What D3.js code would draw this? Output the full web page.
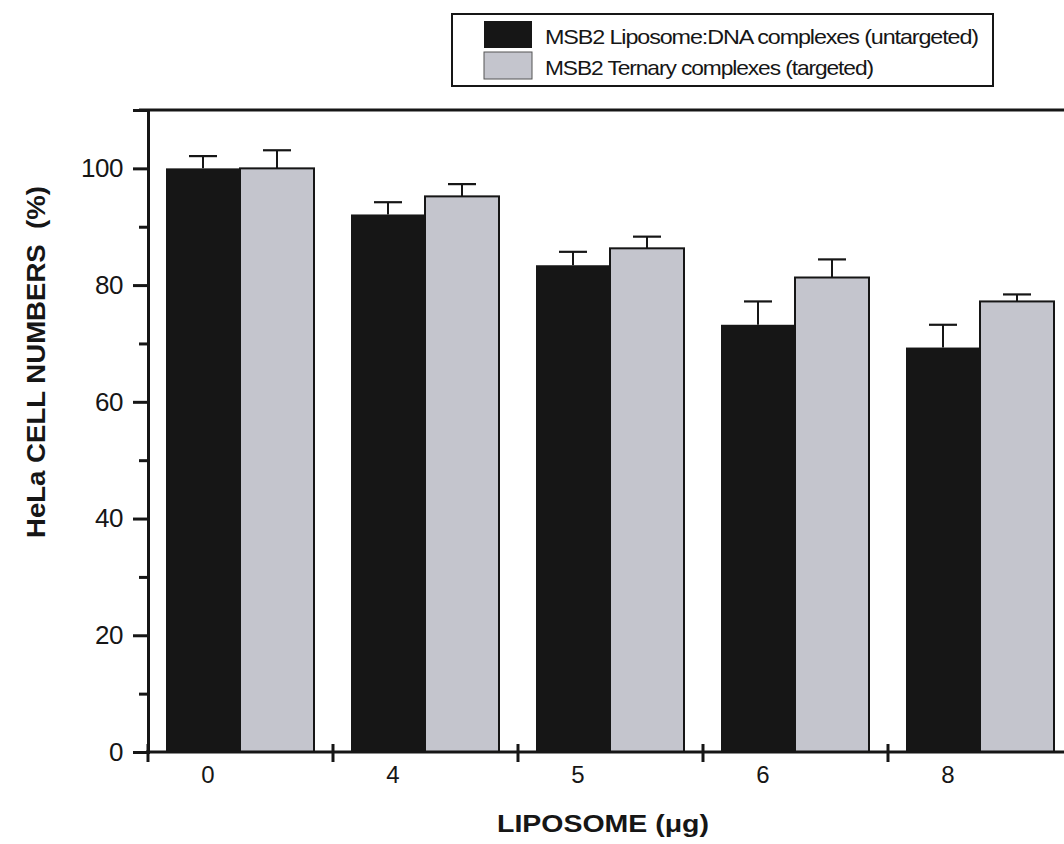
<!DOCTYPE html>
<html><head><meta charset="utf-8">
<script src="https://cdn.jsdelivr.net/npm/d3@7"></script>
<style>body{margin:0;background:#fff}svg{display:block}</style>
</head><body>
<script>
const categories = ["0", "4", "5", "6", "8"];
const seriesNames = ["MSB2 Liposome:DNA complexes (untargeted)", "MSB2 Ternary complexes (targeted)"];
const untargeted = [100, 92.1, 83.4, 73.2, 69.3];
const untargetedErr = [2.1, 2.1, 2.3, 4.0, 3.9];
const targeted = [100, 95.2, 86.3, 81.3, 77.2];
const targetedErr = [3.1, 2.1, 2.0, 3.1, 1.2];
const yTicks = [0, 20, 40, 60, 80, 100];
const yMinorTicks = [10, 30, 50, 70, 90];

const W = 1064, H = 844;
const svg = d3.select("body").append("svg").attr("width", W).attr("height", H);
const ink = "#161616";
const grayFill = "#c4c5cd";
const font = "Arial, 'Liberation Sans', sans-serif";

const y = d3.scaleLinear().domain([0, 110]).range([752, 110]);
const x = d3.scaleBand().domain(categories).range([148, 148 + 185 * 5]).paddingInner(0).paddingOuter(0);
const xs = d3.scaleBand().domain([0, 1]).range([18, 166]).padding(0);

const series = [
  {vals: untargeted, errs: untargetedErr, fill: ink, stroke: "none"},
  {vals: targeted, errs: targetedErr, fill: grayFill, stroke: ink}
];

// error bars
series.forEach((s, si) => {
  categories.forEach((c, i) => {
    const cx = x(c) + xs(si) + xs.bandwidth() / 2;
    const top = y(s.vals[i] + s.errs[i]);
    svg.append("line").attr("x1", cx).attr("x2", cx).attr("y1", y(s.vals[i])).attr("y2", top)
      .attr("stroke", ink).attr("stroke-width", 2);
    svg.append("line").attr("x1", cx - 14).attr("x2", cx + 14).attr("y1", top).attr("y2", top)
      .attr("stroke", ink).attr("stroke-width", 2.2);
  });
});

// bars
series.forEach((s, si) => {
  svg.append("g").selectAll("rect").data(categories).join("rect")
    .attr("x", c => x(c) + xs(si))
    .attr("width", xs.bandwidth())
    .attr("y", (c, i) => y(s.vals[i]))
    .attr("height", (c, i) => y(0) - y(s.vals[i]))
    .attr("fill", s.fill)
    .attr("stroke", s.stroke)
    .attr("stroke-width", 2);
});

// top frame line
svg.append("line").attr("x1", 139).attr("x2", W).attr("y1", y(110)).attr("y2", y(110))
  .attr("stroke", ink).attr("stroke-width", 3);

// y axis
const yAxis = d3.axisLeft(y).tickValues(yTicks).tickSize(15).tickPadding(10).tickFormat(d3.format("d"));
const gy = svg.append("g").attr("transform", "translate(148,0)").call(yAxis);
gy.select(".domain").attr("stroke", ink).attr("stroke-width", 3);
gy.selectAll(".tick line").attr("stroke", ink).attr("stroke-width", 3);
gy.selectAll(".tick text").attr("font-family", font)
  .attr("font-size", 26).attr("fill", ink).attr("letter-spacing", -0.5);
const gym = svg.append("g").attr("transform", "translate(148,0)")
  .call(d3.axisLeft(y).tickValues(yMinorTicks).tickSize(9).tickFormat(""));
gym.select(".domain").remove();
gym.selectAll(".tick line").attr("stroke", ink).attr("stroke-width", 3);

// x axis
svg.append("line").attr("x1", 146).attr("x2", W).attr("y1", y(0)).attr("y2", y(0))
  .attr("stroke", ink).attr("stroke-width", 3);
const boundaries = categories.map(c => x(c)).concat([x.range()[1]]);
svg.append("g").selectAll("line").data(boundaries).join("line")
  .attr("x1", d => d).attr("x2", d => d)
  .attr("y1", y(0) - 8).attr("y2", y(0) + 10)
  .attr("stroke", ink).attr("stroke-width", 3);
svg.append("g").selectAll("text").data(categories).join("text")
  .attr("x", c => x(c) + 60)
  .attr("y", 783)
  .attr("text-anchor", "middle")
  .attr("font-family", font)
  .attr("font-size", 24).attr("fill", ink)
  .text(c => c);

// axis titles
svg.append("text").attr("transform", "translate(45,362) rotate(-90)")
  .attr("text-anchor", "middle")
  .attr("font-family", font)
  .attr("font-weight", "bold").attr("font-size", 25).attr("fill", ink)
  .attr("xml:space", "preserve")
  .attr("textLength", 352).attr("lengthAdjust", "spacingAndGlyphs")
  .text("HeLa CELL NUMBERS  (%)");
svg.append("text").attr("x", 603).attr("y", 832)
  .attr("text-anchor", "middle")
  .attr("font-family", font)
  .attr("font-weight", "bold").attr("font-size", 23).attr("fill", ink)
  .attr("textLength", 212).attr("lengthAdjust", "spacingAndGlyphs")
  .text("LIPOSOME (μg)");

// legend
const lg = svg.append("g");
lg.append("rect").attr("x", 452).attr("y", 14).attr("width", 541).attr("height", 72)
  .attr("fill", "#fff").attr("stroke", ink).attr("stroke-width", 2);
const legendFills = [ink, grayFill];
seriesNames.forEach((name, i) => {
  lg.append("rect").attr("x", 484).attr("y", 21 + i * 31).attr("width", 48).attr("height", 27)
    .attr("fill", legendFills[i]).attr("stroke", i ? "#555" : "none").attr("stroke-width", 1);
  lg.append("text").attr("x", 545).attr("y", 44 + i * 31)
    .attr("font-family", "'Liberation Sans Narrow', Arial, sans-serif")
    .attr("font-size", 21).attr("fill", ink)
    .attr("letter-spacing", -1)
    .attr("textLength", i ? 328 : 433).attr("lengthAdjust", "spacingAndGlyphs")
    .text(name);
});
</script>
</body></html>
